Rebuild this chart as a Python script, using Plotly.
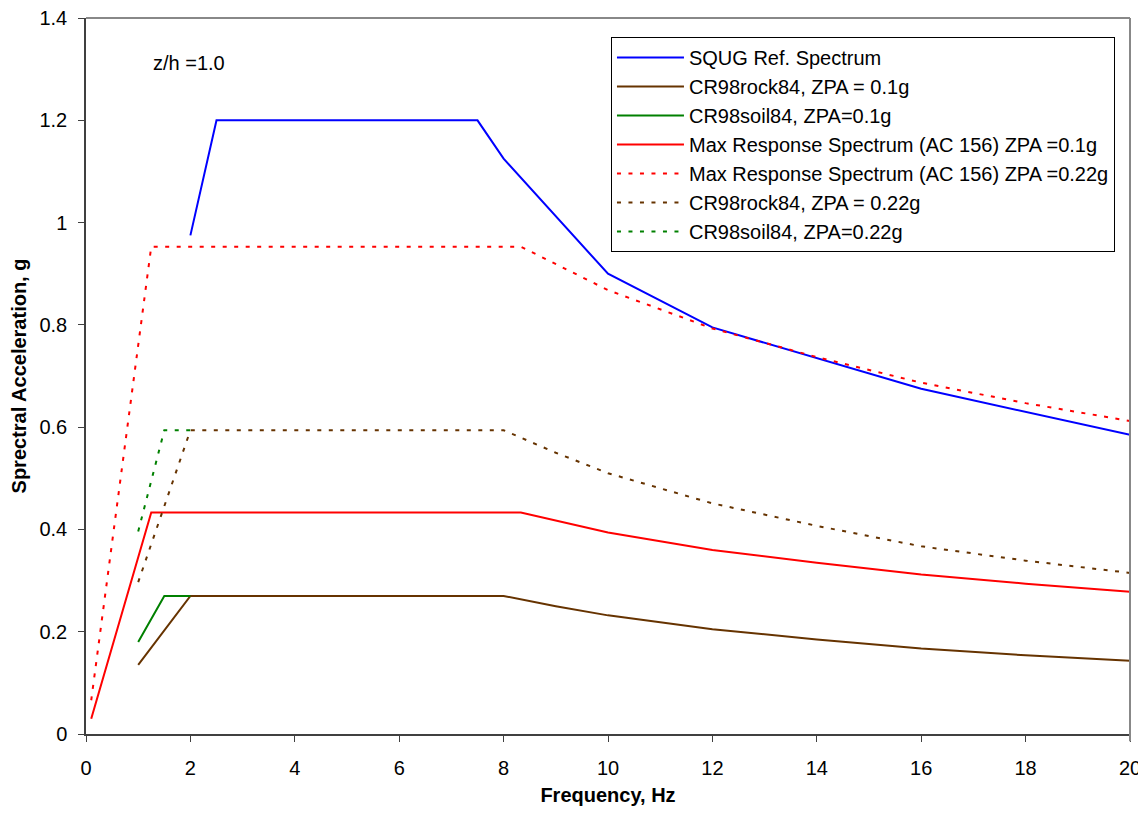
import plotly.graph_objects as go

# ---- data ----
squg_f = [2, 2.5, 7.5, 8, 10, 12, 16, 20]
squg_a = [0.975, 1.2, 1.2, 1.125, 0.9, 0.795, 0.675, 0.585]

rock01_f = [1, 2, 8, 9, 10, 12, 14, 16, 18, 20]
rock01_a = [0.135, 0.27, 0.27, 0.25, 0.232, 0.205, 0.185, 0.167, 0.154, 0.143]

soil01_f = [1, 1.5, 2]
soil01_a = [0.18, 0.27, 0.27]

max01_f = [0.1, 1.25, 8.33, 10, 12, 14, 16, 18, 20]
max01_a = [0.03, 0.433, 0.433, 0.394, 0.36, 0.335, 0.312, 0.294, 0.278]

max022_f = [0.1, 1.25, 8.33, 10, 12, 14, 16, 18, 20]
max022_a = [0.066, 0.953, 0.953, 0.868, 0.793, 0.737, 0.687, 0.647, 0.612]

rock022_f = [1, 2, 8, 9, 10, 12, 14, 16, 18, 20]
rock022_a = [0.297, 0.594, 0.594, 0.55, 0.51, 0.451, 0.407, 0.367, 0.339, 0.315]

soil022_f = [1, 1.5, 2]
soil022_a = [0.396, 0.594, 0.594]

names = [
    "SQUG Ref. Spectrum",
    "CR98rock84, ZPA = 0.1g",
    "CR98soil84, ZPA=0.1g",
    "Max Response Spectrum (AC 156) ZPA =0.1g",
    "Max Response Spectrum (AC 156) ZPA =0.22g",
    "CR98rock84, ZPA = 0.22g",
    "CR98soil84, ZPA=0.22g",
]

x_ticks = list(range(0, 21, 2))
y_ticks = [0, 0.2, 0.4, 0.6, 0.8, 1.0, 1.2, 1.4]
y_tick_text = ["0", "0.2", "0.4", "0.6", "0.8", "1", "1.2", "1.4"]

BLUE = "#0000FF"
BROWN = "#663300"
GREEN = "#008000"
RED = "#FF0000"
DOT = "4px,7.5px"

series = [
    (squg_f, squg_a, BLUE, "solid"),
    (rock01_f, rock01_a, BROWN, "solid"),
    (soil01_f, soil01_a, GREEN, "solid"),
    (max01_f, max01_a, RED, "solid"),
    (max022_f, max022_a, RED, DOT),
    (rock022_f, rock022_a, BROWN, DOT),
    (soil022_f, soil022_a, GREEN, DOT),
]

FONT = "Arial, Liberation Sans, sans-serif"
FS = 20

fig = go.Figure()
for i, (fx, fy, col, dash) in enumerate(series):
    fig.add_trace(go.Scatter(
        x=fx, y=fy, mode="lines", name=names[i],
        line=dict(color=col, width=2, dash=dash),
    ))

fig.update_layout(
    width=1138, height=805,
    margin=dict(l=77, r=16, t=10, b=76),
    paper_bgcolor="white", plot_bgcolor="white",
    font=dict(family=FONT, size=FS, color="black"),
    showlegend=True,
    legend=dict(
        x=0.9856, y=0.9736, xanchor="right", yanchor="top",
        bgcolor="white", bordercolor="black", borderwidth=1,
        font=dict(family=FONT, size=FS, color="black"),
        itemwidth=67,
    ),
    xaxis=dict(
        range=[0, 20], tickvals=x_ticks, ticks="outside", ticklen=6,
        tickcolor="#404040", showline=True, linecolor="#404040", linewidth=1.5,
        showgrid=False, zeroline=False, ticklabelstandoff=9,
        ticklabeloverflow="allow", automargin="bottom",
        title=dict(text="<b>Frequency, Hz</b>", font=dict(size=FS), standoff=10),
        tickfont=dict(size=FS),
    ),
    yaxis=dict(
        range=[0, 1.4001], tickvals=y_ticks, ticktext=y_tick_text, ticks="outside", ticklen=6,
        tickcolor="#404040", showline=True, linecolor="#404040", linewidth=1.5,
        showgrid=False, zeroline=False, ticklabelstandoff=7,
        ticklabeloverflow="allow", automargin="left",
        title=dict(text="<b>Sprectral Acceleration, g</b>", font=dict(size=FS), standoff=7),
        tickfont=dict(size=FS),
    ),
    shapes=[
        dict(type="line", xref="paper", yref="paper", x0=0, x1=1, y0=1, y1=1,
             line=dict(color="#888888", width=2)),
        dict(type="line", xref="paper", yref="paper", x0=1, x1=1, y0=-0.01, y1=1,
             line=dict(color="#888888", width=2)),
    ],
    annotations=[
        dict(text="z/h =1.0", x=1.97, y=1.312, xref="x", yref="y",
             showarrow=False, font=dict(size=FS, family=FONT)),
    ],
)

fig.write_html("out.html")
